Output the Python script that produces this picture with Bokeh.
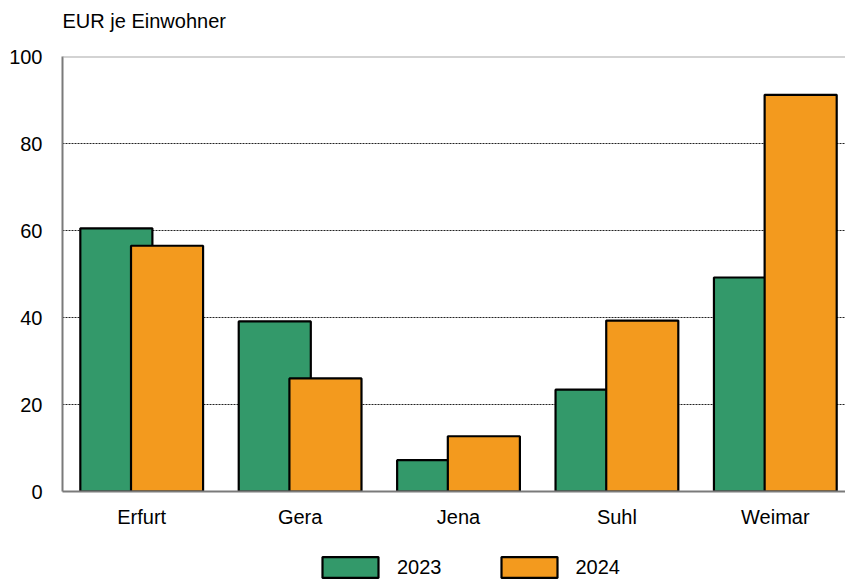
import numpy as np
from bokeh.plotting import figure
from bokeh.layouts import column
from bokeh.models import (Range1d, FixedTicker, Span, Legend, LegendItem,
                          ColumnDataSource, Label)
from bokeh.transform import dodge
from bokeh.embed import file_html
from bokeh.resources import INLINE

# ---- data ----
cities = ["Erfurt", "Gera", "Jena", "Suhl", "Weimar"]
years = ["2023", "2024"]
v2023 = [60.5, 39.1, 7.2, 23.4, 49.2]
v2024 = [56.5, 26.0, 12.7, 39.3, 91.2]
y_ticks = [0, 20, 40, 60, 80, 100]
unit_label = "EUR je Einwohner"

GREEN = "#33996a"
ORANGE = "#f39a1e"
FONT = "Liberation Sans"

idx = list(range(len(cities)))
src = ColumnDataSource(dict(x=idx, v2023=v2023, v2024=v2024))

# ---- top strip holding the unit label ----
top = figure(width=845, height=36, output_backend="svg", toolbar_location=None,
             x_range=Range1d(0, 1), y_range=Range1d(0, 1),
             x_axis_type=None, y_axis_type=None,
             min_border_left=0, min_border_right=0, min_border_top=0,
             min_border_bottom=0)
top.outline_line_color = None
top.grid.visible = False
top.add_layout(Label(x=0, y=16, x_units="screen", y_units="screen",
                     text=unit_label, text_font=FONT, text_font_size="20px",
                     text_color="#000000", text_align="left",
                     text_baseline="middle"))

# ---- main chart ----
p = figure(width=845, height=500, output_backend="svg", toolbar_location=None,
           x_range=Range1d(-0.5, 4.443), y_range=Range1d(0, 100),
           min_border_left=62, min_border_right=0, min_border_top=20,
           min_border_bottom=45)
p.outline_line_color = None
p.background_fill_color = "white"

r1 = p.vbar(x=dodge("x", -0.16, range=p.x_range), top="v2023", width=0.455,
            source=src, fill_color=GREEN, line_color="black", line_width=2.2)
r2 = p.vbar(x=dodge("x", 0.16, range=p.x_range), top="v2024", width=0.455,
            source=src, fill_color=ORANGE, line_color="black", line_width=2.2)

p.xaxis.ticker = FixedTicker(ticks=idx)
p.xaxis.major_label_overrides = {i: c for i, c in zip(idx, cities)}
p.yaxis.ticker = FixedTicker(ticks=y_ticks)
for ax in (p.xaxis[0], p.yaxis[0]):
    ax.major_tick_out = 0
    ax.major_tick_in = 0
    ax.minor_tick_out = 0
    ax.minor_tick_in = 0
    ax.axis_line_color = "#7a7a7a"
    ax.axis_line_width = 2
    ax.major_label_text_font = FONT
    ax.major_label_text_font_size = "20px"
    ax.major_label_text_color = "#000000"
p.yaxis.major_label_standoff = 20
p.xaxis.major_label_standoff = 14

p.xgrid.grid_line_color = None
p.ygrid.grid_line_color = "#222222"
p.ygrid.grid_line_dash = "2 1"
p.ygrid.grid_line_width = 1

top_line = Span(location=100, dimension="width", line_color="#a8a8a8",
                line_width=2)
p.add_layout(top_line)

# ---- legend strip (separate small figure below the chart) ----
lg = figure(width=845, height=47, output_backend="svg", toolbar_location=None,
            x_range=Range1d(0, 1), y_range=Range1d(0, 1),
            x_axis_type=None, y_axis_type=None,
            min_border_left=0, min_border_right=0, min_border_top=0,
            min_border_bottom=0)
lg.outline_line_color = None
lg.grid.visible = False
# proxy renderers with no drawable bar (NaN height): only legend swatches show
d1 = lg.vbar(x=[0.5], top=[np.nan], width=0.1, fill_color=GREEN,
             line_color="black", line_width=2.2)
d2 = lg.vbar(x=[0.5], top=[np.nan], width=0.1, fill_color=ORANGE,
             line_color="black", line_width=2.2)
legend = Legend(items=[LegendItem(label=years[0], renderers=[d1]),
                       LegendItem(label=years[1], renderers=[d2])],
                orientation="horizontal", location=(253, 3),
                glyph_width=70, glyph_height=26, label_standoff=12,
                spacing=52, border_line_color=None, padding=0, margin=0,
                label_text_font=FONT, label_text_font_size="20px",
                label_text_color="#000000", background_fill_alpha=0)
lg.add_layout(legend)

layout = column(top, p, lg, spacing=0)
open("out.html", "w").write(file_html(layout, INLINE))
